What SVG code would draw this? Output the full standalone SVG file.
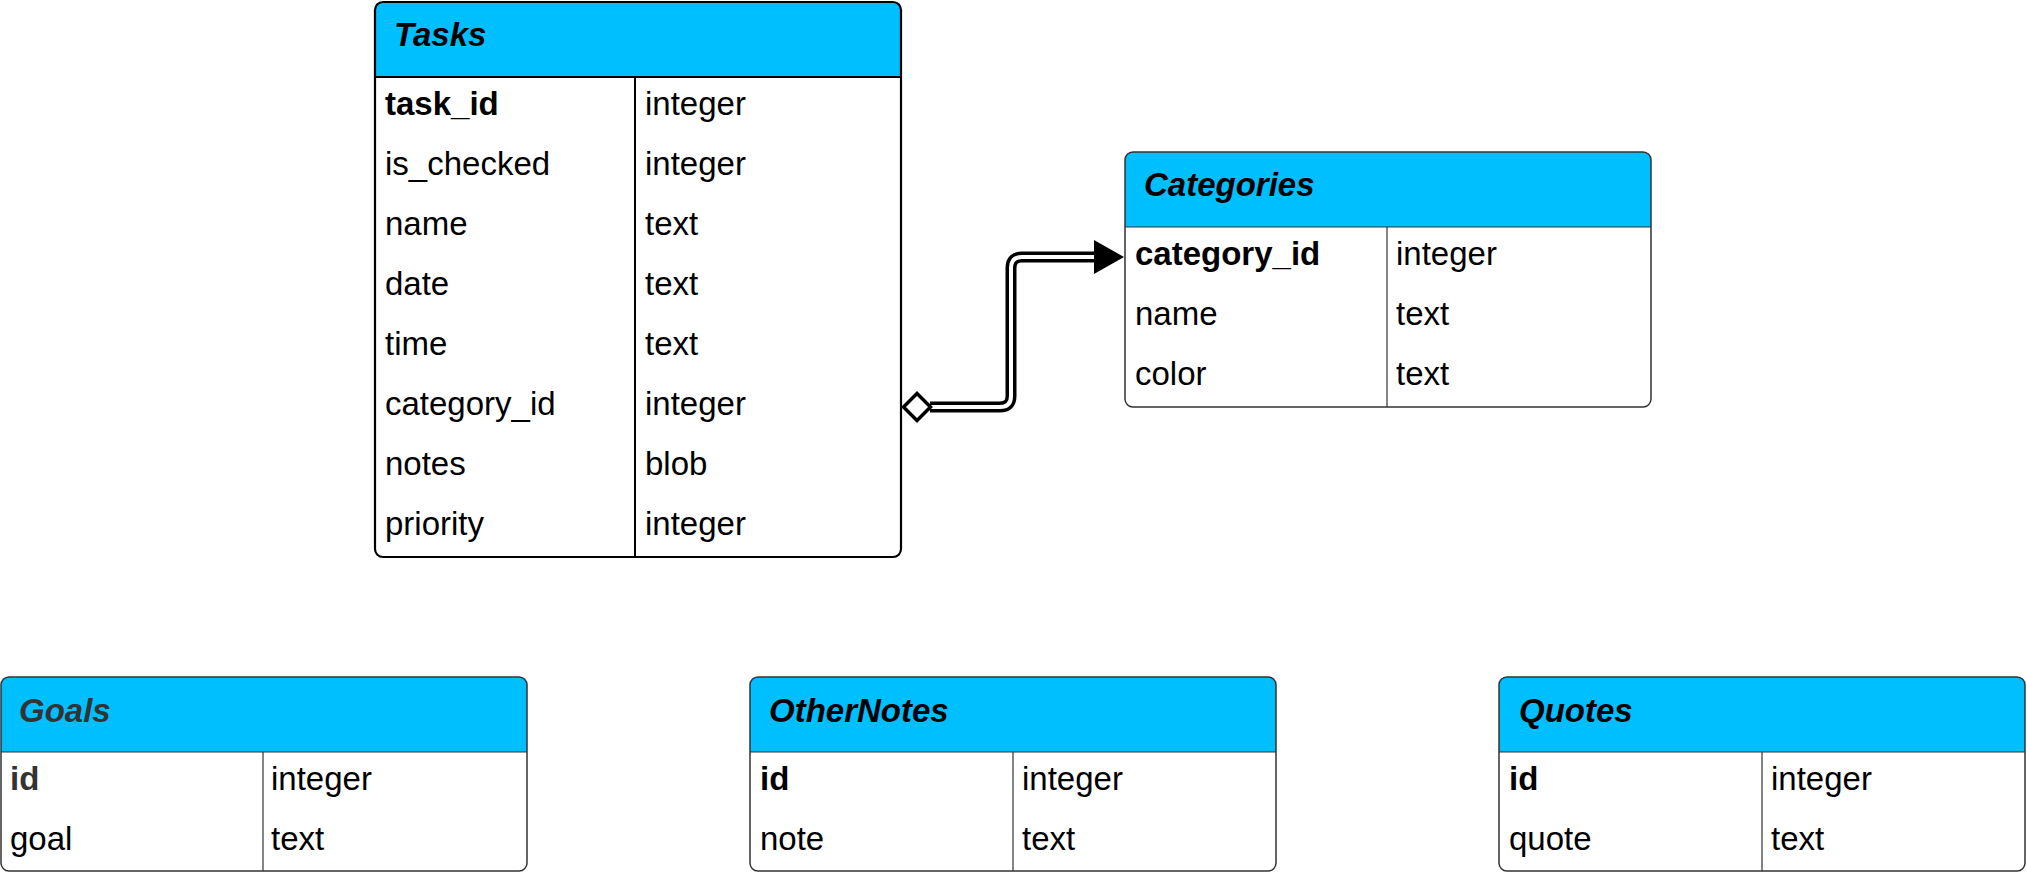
<svg xmlns="http://www.w3.org/2000/svg" width="2027" height="872" viewBox="0 0 2027 872">
  <style>
    text { font-family: "Liberation Sans", Arial, sans-serif; font-size: 33px; fill: #000; }
    .title { font-weight: bold; font-style: italic; }
    .pk { font-weight: bold; }
    .dark { fill: #333333; }
    .hdr { fill: #00BFFF; }
    .box { fill: none; stroke: #333333; stroke-width: 1.5; }
    .boxk { fill: none; stroke: #000; stroke-width: 2.2; }
    .sep { stroke: #333333; stroke-width: 1.2; }
    .sepk { stroke: #000; stroke-width: 2; }
    .bg { fill: #fff; }
  </style>
  <rect width="2027" height="872" fill="#fff"/>

  <g id="tasks">
    <rect class="bg" x="375" y="2" width="526" height="555" rx="8"/>
    <path class="hdr" d="M375 77 V10 Q375 2 383 2 H893 Q901 2 901 10 V77 Z"/>
    <line class="sepk" x1="375" y1="77" x2="901" y2="77"/>
    <line class="sepk" x1="635" y1="77" x2="635" y2="557"/>
    <rect class="boxk" x="375" y="2" width="526" height="555" rx="8"/>
    <text class="title" x="394" y="46">Tasks</text>
    <text class="pk" x="385" y="115">task_id</text><text x="645" y="115">integer</text>
    <text x="385" y="175">is_checked</text><text x="645" y="175">integer</text>
    <text x="385" y="235">name</text><text x="645" y="235">text</text>
    <text x="385" y="295">date</text><text x="645" y="295">text</text>
    <text x="385" y="355">time</text><text x="645" y="355">text</text>
    <text x="385" y="415">category_id</text><text x="645" y="415">integer</text>
    <text x="385" y="475">notes</text><text x="645" y="475">blob</text>
    <text x="385" y="535">priority</text><text x="645" y="535">integer</text>
  </g>

  <g id="categories">
    <rect class="bg" x="1125" y="152" width="526" height="255" rx="8"/>
    <path class="hdr" d="M1125 227 V160 Q1125 152 1133 152 H1643 Q1651 152 1651 160 V227 Z"/>
    <line class="sep" x1="1125" y1="227" x2="1651" y2="227"/>
    <line class="sep" x1="1387" y1="227" x2="1387" y2="407"/>
    <rect class="box" x="1125" y="152" width="526" height="255" rx="8"/>
    <text class="title" x="1144" y="196">Categories</text>
    <text class="pk" x="1135" y="265">category_id</text><text x="1396" y="265">integer</text>
    <text x="1135" y="325">name</text><text x="1396" y="325">text</text>
    <text x="1135" y="385">color</text><text x="1396" y="385">text</text>
  </g>

  <g id="goals">
    <rect class="bg" x="1" y="677" width="526" height="194" rx="8"/>
    <path class="hdr" d="M1 752 V685 Q1 677 9 677 H519 Q527 677 527 685 V752 Z"/>
    <line class="sep" x1="1" y1="752" x2="527" y2="752"/>
    <line class="sep" x1="263" y1="752" x2="263" y2="871"/>
    <rect class="box" x="1" y="677" width="526" height="194" rx="8"/>
    <text class="title dark" x="19" y="722">Goals</text>
    <text class="pk dark" x="10" y="790">id</text><text x="271" y="790">integer</text>
    <text x="10" y="850">goal</text><text x="271" y="850">text</text>
  </g>

  <g id="othernotes">
    <rect class="bg" x="750" y="677" width="526" height="194" rx="8"/>
    <path class="hdr" d="M750 752 V685 Q750 677 758 677 H1268 Q1276 677 1276 685 V752 Z"/>
    <line class="sep" x1="750" y1="752" x2="1276" y2="752"/>
    <line class="sep" x1="1013" y1="752" x2="1013" y2="871"/>
    <rect class="box" x="750" y="677" width="526" height="194" rx="8"/>
    <text class="title" x="769" y="722">OtherNotes</text>
    <text class="pk" x="760" y="790">id</text><text x="1022" y="790">integer</text>
    <text x="760" y="850">note</text><text x="1022" y="850">text</text>
  </g>

  <g id="quotes">
    <rect class="bg" x="1499" y="677" width="526" height="194" rx="8"/>
    <path class="hdr" d="M1499 752 V685 Q1499 677 1507 677 H2017 Q2025 677 2025 685 V752 Z"/>
    <line class="sep" x1="1499" y1="752" x2="2025" y2="752"/>
    <line class="sep" x1="1762" y1="752" x2="1762" y2="871"/>
    <rect class="box" x="1499" y="677" width="526" height="194" rx="8"/>
    <text class="title" x="1519" y="722">Quotes</text>
    <text class="pk" x="1509" y="790">id</text><text x="1771" y="790">integer</text>
    <text x="1509" y="850">quote</text><text x="1771" y="850">text</text>
  </g>

  <g id="connectors">
    <path d="M930 407 H1000 Q1011 407 1011 396 V268 Q1011 257 1022 257 H1096" fill="none" stroke="#000" stroke-width="11"/>
    <path d="M930 407 H1000 Q1011 407 1011 396 V268 Q1011 257 1022 257 H1096" fill="none" stroke="#fff" stroke-width="4"/>
    <polygon points="1094,240 1124,257 1094,274" fill="#000"/>
    <polygon points="903.5,407 917,393.5 930.5,407 917,420.5" fill="#fff" stroke="#000" stroke-width="3.5"/>
  </g>
</svg>
